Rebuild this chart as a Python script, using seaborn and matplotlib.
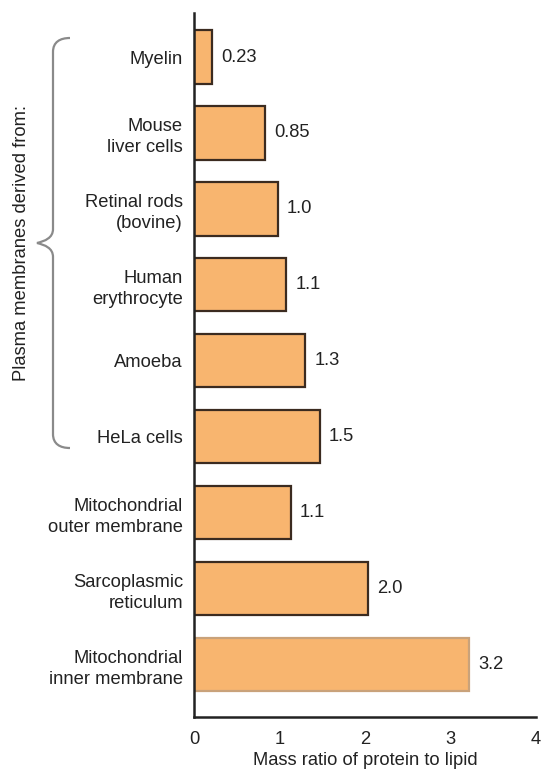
import matplotlib
matplotlib.use("Agg")
import matplotlib.pyplot as plt
from matplotlib.path import Path
from matplotlib.patches import PathPatch
import seaborn as sns
import pandas as pd

categories = ["Myelin", "Mouse\nliver cells", "Retinal rods\n(bovine)", "Human\nerythrocyte",
              "Amoeba", "HeLa cells", "Mitochondrial\nouter membrane", "Sarcoplasmic\nreticulum",
              "Mitochondrial\ninner membrane"]
values = [0.21, 0.83, 0.98, 1.08, 1.30, 1.47, 1.13, 2.04, 3.22]
value_labels = ["0.23", "0.85", "1.0", "1.1", "1.3", "1.5", "1.1", "2.0", "3.2"]
x_ticks = [0, 1, 2, 3, 4]
x_label = "Mass ratio of protein to lipid"
group_label = "Plasma membranes derived from:"

df = pd.DataFrame({"category": categories, "value": values})

sns.set_theme(style="white")
plt.rcParams["font.family"] = ["Liberation Sans", "DejaVu Sans"]

FS = 13.2
TXT = "#222222"
fig = plt.figure(figsize=(5.47, 7.74), dpi=100)
ax = fig.add_axes([194/547, 1-717/774, (536-194)/547, (717-13)/774])

sns.barplot(data=df, x="value", y="category", orient="h", ax=ax,
            color="#F8B56F", width=0.7, saturation=1,
            edgecolor="#3b2b20", linewidth=1.6)
# last bar has a softer edge
ax.patches[-1].set_edgecolor("#c9a27a")

ax.set_xlim(0, 4)
ax.set_ylim(8.69, -0.58)
ax.set_xticks(x_ticks)
ax.set_xticklabels([str(t) for t in x_ticks], fontsize=FS, color=TXT)
ax.tick_params(axis="x", direction="in", length=7, width=1.5, color="#222222", pad=10)
ax.tick_params(axis="y", length=0, pad=8, labelsize=FS, labelcolor=TXT)
for lab in ax.get_yticklabels():
    lab.set_horizontalalignment("right")
    lab.set_multialignment("right")
    lab.set_linespacing(1.33)
ax.set_ylabel("")
ax.set_xlabel(x_label, fontsize=FS, color=TXT, labelpad=3)

for s in ["top", "right"]:
    ax.spines[s].set_visible(False)
for s in ["left", "bottom"]:
    ax.spines[s].set_color("#222222")
    ax.spines[s].set_linewidth(1.8)

for p, lab in zip(ax.patches, value_labels):
    ax.annotate(lab, xy=(p.get_width(), p.get_y() + p.get_height()/2),
                xytext=(9, 0), textcoords="offset pixels",
                ha="left", va="center", fontsize=FS, color=TXT)

# group label and brace (figure pixel coordinates)
W, H = 547, 774
fig.text(22/W, 1-243/H, group_label, rotation=90, ha="center", va="center",
         fontsize=FS, color=TXT)

def fx(x):
    return x / W

def fy(y):
    return 1 - y / H

xl, xr, xt = 53, 70, 37
yt, ym, yb = 38, 243, 448
verts = [
    (xr, yt), (60, yt), (xl, yt+4), (xl, yt+14),
    (xl, ym-14), (xl, ym-5), (45, ym-2), (xt, ym),
    (45, ym+2), (xl, ym+5), (xl, ym+14),
    (xl, yb-14), (xl, yb-4), (60, yb), (xr, yb),
]
codes = [Path.MOVETO, Path.CURVE4, Path.CURVE4, Path.CURVE4,
         Path.LINETO, Path.CURVE4, Path.CURVE4, Path.CURVE4,
         Path.CURVE4, Path.CURVE4, Path.CURVE4,
         Path.LINETO, Path.CURVE4, Path.CURVE4, Path.CURVE4]
path = Path([(fx(x), fy(y)) for x, y in verts], codes)
fig.add_artist(PathPatch(path, transform=fig.transFigure, fill=False,
                         edgecolor="#8a8a8a", linewidth=1.6))

fig.savefig("out.png", dpi=100)
